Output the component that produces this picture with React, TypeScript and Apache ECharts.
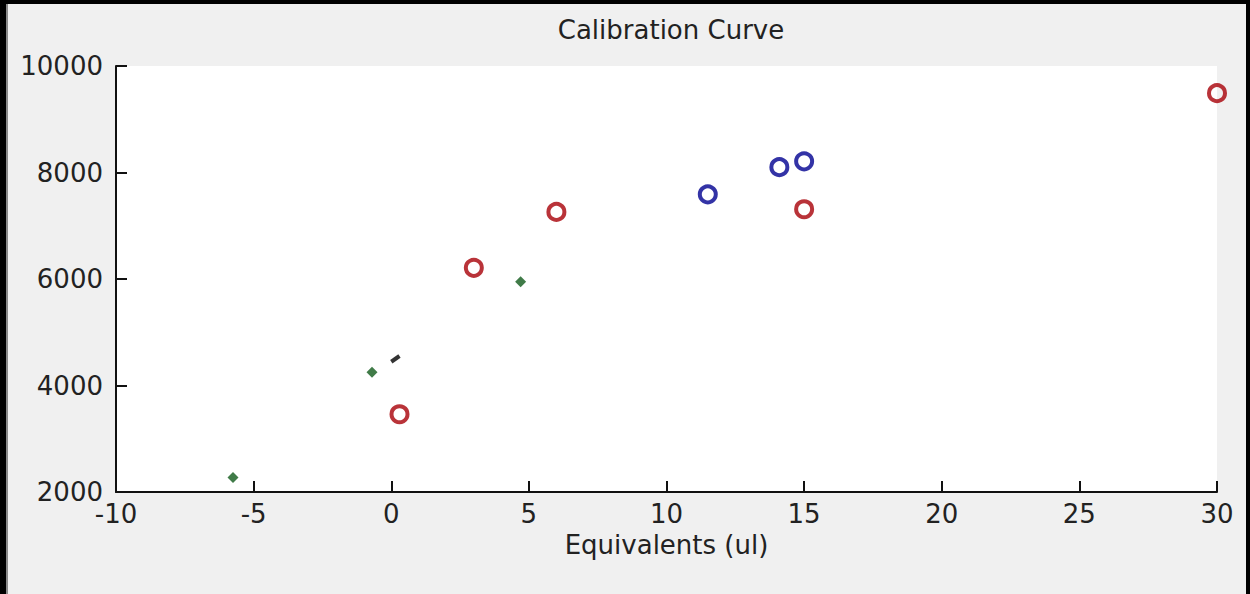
import React, { useEffect, useRef } from "react";
import * as echarts from "echarts";

const titleText = "Calibration Curve";
const xAxisName = "Equivalents (ul)";
const redPoints: [number, number][] = [
  [0.3, 3460],
  [3, 6210],
  [6, 7260],
  [15, 7310],
  [30, 9490],
];
const bluePoints: [number, number][] = [
  [11.5, 7590],
  [14.1, 8100],
  [15, 8210],
];
const greenPoints: [number, number][] = [
  [-5.75, 2270],
  [-0.7, 4250],
  [4.7, 5950],
];
const blackPoints: [number, number][] = [[0.15, 4500]];

const FONT = "'DejaVu Sans', Verdana, sans-serif";
const TXT = "#222222";

export default function App() {
  const ref = useRef<HTMLDivElement>(null);
  useEffect(() => {
    document.body.style.margin = "0";
    const chart = echarts.init(ref.current!, null, { renderer: "svg" });
    chart.setOption({
      animation: false,
      backgroundColor: "#f0f0f0",
      title: {
        text: titleText,
        left: 666,
        textAlign: "center",
        top: 12,
        textStyle: { fontFamily: FONT, fontSize: 26, fontWeight: "normal", color: TXT },
      },
      grid: {
        left: 116,
        right: 33,
        top: 66,
        bottom: 102,
        show: true,
        backgroundColor: "#ffffff",
        borderWidth: 0,
      },
      xAxis: {
        type: "value",
        min: -10,
        max: 30,
        interval: 5,
        name: xAxisName,
        nameLocation: "middle",
        nameGap: 40,
        nameTextStyle: { fontFamily: FONT, fontSize: 26, color: TXT },
        axisLine: { show: true, onZero: false, lineStyle: { color: "#111", width: 2 } },
        axisTick: { show: true, inside: true, length: 11, lineStyle: { color: "#111", width: 2 } },
        axisLabel: { fontFamily: FONT, fontSize: 26, color: TXT, margin: 9 },
        splitLine: { show: false },
      },
      yAxis: {
        type: "value",
        min: 2000,
        max: 10000,
        interval: 2000,
        axisLine: { show: true, onZero: false, lineStyle: { color: "#111", width: 2 } },
        axisTick: { show: true, inside: true, length: 11, lineStyle: { color: "#111", width: 2 } },
        axisLabel: {
          fontFamily: FONT,
          fontSize: 26,
          color: TXT,
          margin: 13,
          formatter: (v: number) => String(v),
        },
        splitLine: { show: false },
      },
      graphic: [
        { type: "rect", shape: { x: 0, y: 0, width: 1250, height: 4 }, style: { fill: "#000" } },
        { type: "rect", shape: { x: 0, y: 0, width: 6, height: 594 }, style: { fill: "#000" } },
        { type: "rect", shape: { x: 1246, y: 0, width: 4, height: 594 }, style: { fill: "#000" } },
        { type: "rect", shape: { x: 6, y: 4, width: 2, height: 590 }, style: { fill: "#8a8a8a" } },
      ],
      series: [
        {
          type: "scatter",
          data: redPoints,
          symbol: "circle",
          symbolSize: 16,
          itemStyle: { color: "rgba(255,255,255,0)", borderColor: "#a80008", borderWidth: 4 },
        },
        {
          type: "scatter",
          data: bluePoints,
          symbol: "circle",
          symbolSize: 16,
          itemStyle: { color: "rgba(255,255,255,0)", borderColor: "#000090", borderWidth: 4 },
        },
        {
          type: "scatter",
          data: greenPoints,
          symbol: "diamond",
          symbolSize: 11,
          itemStyle: { color: "#105a1a" },
        },
        {
          type: "scatter",
          data: blackPoints,
          symbol: "rect",
          symbolSize: [10, 4],
          symbolRotate: 35,
          itemStyle: { color: "#000" },
        },
      ],
    });
    return () => chart.dispose();
  }, []);
  return <div ref={ref} style={{ width: 1250, height: 594 }} />;
}
